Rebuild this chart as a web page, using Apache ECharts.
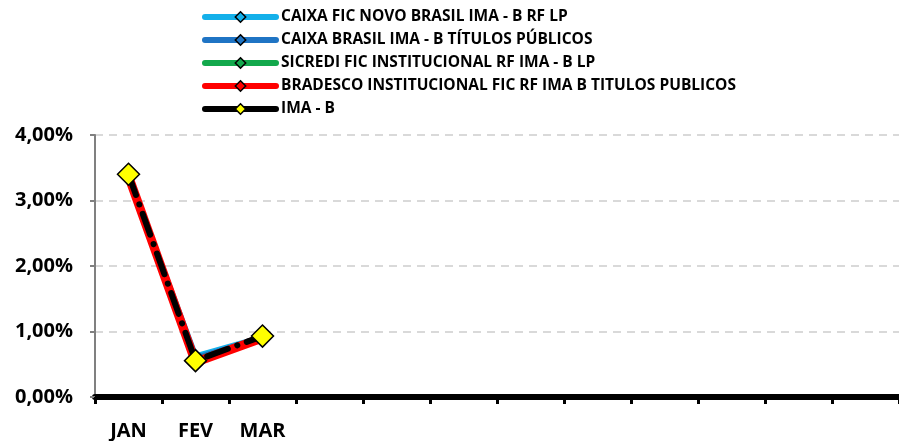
<!DOCTYPE html>
<html><head><meta charset="utf-8">
<script src="https://cdn.jsdelivr.net/npm/echarts@6/dist/echarts.min.js"></script>
<style>html,body{margin:0;padding:0;background:#fff}#c{width:899px;height:441px}</style>
</head><body><div id="c"></div>
<script>
const months = ['JAN','FEV','MAR','','','','','','','','',''];
const yTicks = [0, 1, 2, 3, 4];
const seriesNames = [
  'CAIXA FIC NOVO BRASIL IMA - B RF LP',
  'CAIXA BRASIL IMA - B TÍTULOS PÚBLICOS',
  'SICREDI FIC INSTITUCIONAL RF IMA - B LP',
  'BRADESCO INSTITUCIONAL FIC RF IMA B TITULOS PUBLICOS',
  'IMA - B'
];
const caixaNovoBrasil = [3.36, 0.62, 0.91];
const caixaBrasil = [3.37, 0.59, 0.90];
const sicredi = [3.38, 0.56, 0.91];
const bradesco = [3.37, 0.53, 0.90];
const imaB = [3.40, 0.555, 0.93];

const FONT = 'Open Sans';
const colors = ['#14b0ea', '#1f74c4', '#12a84c', '#ff0000', '#000000'];
const dataSets = [caixaNovoBrasil, caixaBrasil, sicredi, bradesco, imaB];

const series = dataSets.map((d, i) => {
  const isIma = i === 4;
  return {
    name: seriesNames[i],
    type: 'line',
    data: d,
    symbol: 'diamond',
    symbolSize: isIma ? 22 : 9,
    showSymbol: true,
    z: 2 + i,
    itemStyle: {
      color: isIma ? '#ffff00' : colors[i],
      borderColor: '#000',
      borderWidth: isIma ? 1.5 : 1.2
    },
    lineStyle: {
      color: colors[i],
      width: isIma ? 6 : (i === 3 ? 9 : 6),
      type: isIma ? [22, 10, 0.1, 10] : 'solid',
      cap: 'round'
    },
    emphasis: { disabled: true },
    animation: false
  };
});

const legendData = seriesNames.map((n, i) => ({
  name: n,
  lineStyle: { width: 6, type: 'solid', cap: 'round', color: colors[i] },
  itemStyle: { borderWidth: 1.5, borderColor: '#000' }
}));

const chart = echarts.init(document.getElementById('c'));
chart.setOption({
  animation: false,
  legend: {
    data: legendData,
    orient: 'vertical',
    left: 202,
    top: 8,
    padding: 0,
    itemWidth: 71,
    itemHeight: 13,
    itemGap: 5,
    textStyle: { fontFamily: FONT, fontWeight: 'bold', fontSize: 15.5, color: '#000', lineHeight: 18 }
  },
  grid: { left: 95, right: -4, top: 135, bottom: 44, containLabel: false },
  xAxis: {
    type: 'category',
    data: months,
    boundaryGap: true,
    axisLine: { lineStyle: { color: '#000', width: 6 } },
    axisTick: { show: true, length: 7, lineStyle: { color: '#000', width: 3 }, interval: 0 },
    axisLabel: { interval: 0, margin: 24, fontFamily: FONT, fontWeight: 'bold', fontSize: 20, color: '#000' },
    splitLine: { show: false }
  },
  yAxis: {
    type: 'value',
    min: yTicks[0],
    max: yTicks[yTicks.length - 1],
    interval: 1,
    axisLine: { show: true, lineStyle: { color: '#808080', width: 2 } },
    axisTick: { show: true, length: 5, lineStyle: { color: '#808080', width: 2 } },
    axisLabel: {
      margin: 22,
      fontFamily: FONT, fontWeight: 'bold', fontSize: 20, color: '#000',
      formatter: v => v.toFixed(2).replace('.', ',') + '%'
    },
    splitLine: { lineStyle: { color: '#d9d9d9', width: 2, type: [8, 6] } }
  },
  series: series
});
</script></body></html>
